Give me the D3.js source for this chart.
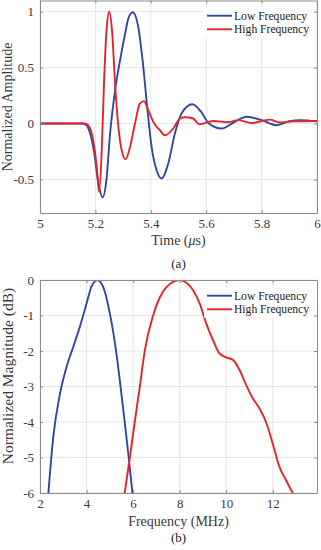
<!DOCTYPE html>
<html><head><meta charset="utf-8">
<script src="https://cdn.jsdelivr.net/npm/d3@7"></script>
<style>
html,body{margin:0;padding:0;background:#fff;}
svg, svg text{font-family:"Times New Roman","Liberation Serif","DejaVu Serif",serif !important;}
</style></head>
<body>
<svg id="c" width="321" height="550"></svg>
<script>
// ---- Data (a): time signals ----
const timeLow = [5.00,5.15,5.165,5.18,5.195,5.21,5.226,5.24,5.253,5.271,5.289,5.307,5.319,5.335,5.355,5.373,5.388,5.403,5.421,5.439,5.463,5.487,5.511,5.55,5.58,5.61,5.656,5.70,5.746,5.80,5.854,5.90,5.94,6.00];
const ampLow  = [0,0,-0.01,-0.08,-0.25,-0.52,-0.66,-0.50,-0.09,0.297,0.565,0.80,0.94,0.995,0.86,0.505,0.12,-0.21,-0.417,-0.49,-0.357,-0.09,0.09,0.172,0.11,0.0,-0.045,0.01,0.06,0.03,-0.015,0.02,0.03,0.02];
const timeHigh = [5.00,5.16,5.174,5.192,5.205,5.213,5.223,5.231,5.241,5.250,5.261,5.271,5.283,5.295,5.309,5.325,5.343,5.361,5.375,5.391,5.409,5.433,5.451,5.481,5.505,5.523,5.553,5.575,5.626,5.68,5.715,5.764,5.83,5.866,5.914,6.00];
const ampHigh  = [0,0,-0.015,-0.15,-0.39,-0.61,-0.24,0.357,0.86,1.0,0.80,0.357,-0.03,-0.24,-0.32,-0.21,0.0,0.18,0.20,0.12,0.015,-0.06,-0.105,-0.045,0.045,0.056,0.045,-0.006,0.023,0.012,0.03,0.005,0.035,0.01,0.02,0.023];
const timeTicks = [5,5.2,5.4,5.6,5.8,6];
const ampTicks = [-0.5,0,0.5,1];

// ---- Data (b): spectra ----
const freqLow = [2.36,2.57,2.86,3.14,3.43,3.71,4.0,4.21,4.46,4.71,5.0,5.29,5.46,5.64,5.81,5.97];
const magLow  = [-6,-4.42,-3.2,-2.45,-1.88,-1.32,-0.66,-0.19,0,-0.19,-0.94,-2.1,-3.0,-4.0,-5.0,-6];
const freqHigh = [5.64,5.86,6.07,6.29,6.5,6.86,7.14,7.43,8.0,8.29,8.57,8.86,9.14,9.43,9.71,10.0,10.29,10.57,10.86,11.14,11.43,11.71,12.0,12.29,12.57,12.86];
const magHigh  = [-6,-5,-4,-3,-2,-1,-0.5,-0.2,0,-0.08,-0.28,-0.66,-1.22,-1.69,-2.07,-2.18,-2.25,-2.53,-2.96,-3.33,-3.62,-4.0,-4.61,-5.27,-5.64,-6];
const freqTicks = [2,4,6,8,10,12];
const magTicks = [0,-1,-2,-3,-4,-5,-6];

const seriesNames = ["Low Frequency","High Frequency"];
const colors = ["#33479c","#e3242b"];
const FONT = '"Times New Roman","Liberation Serif","DejaVu Serif",serif';

const svg = d3.select("#c");

function panel(opt){
  const g = svg.append("g");
  const x = d3.scaleLinear().domain(opt.xdom).range([opt.left,opt.right]);
  const y = d3.scaleLinear().domain(opt.ydom).range([opt.bottom,opt.top]);
  g.selectAll(".gx").data(opt.xticks).enter().append("line")
    .attr("x1",d=>x(d)).attr("x2",d=>x(d)).attr("y1",opt.top).attr("y2",opt.bottom)
    .attr("stroke","#e6e6e6").attr("stroke-width",1);
  g.selectAll(".gy").data(opt.yticks).enter().append("line")
    .attr("y1",d=>y(d)).attr("y2",d=>y(d)).attr("x1",opt.left).attr("x2",opt.right)
    .attr("stroke","#e6e6e6").attr("stroke-width",1);
  const cid = "clip"+opt.id;
  svg.append("clipPath").attr("id",cid).append("rect")
    .attr("x",opt.left).attr("y",opt.top).attr("width",opt.right-opt.left).attr("height",opt.bottom-opt.top);
  const line = d3.line().x(d=>x(d[0])).y(d=>y(d[1])).curve(d3.curveMonotoneX);
  opt.series.forEach((s,i)=>{
    const pts = s.xs.map((v,k)=>[v,s.ys[k]]);
    g.append("path").attr("d",line(pts)).attr("fill","none")
      .attr("stroke",colors[i]).attr("stroke-width",1.9)
      .attr("clip-path",`url(#${cid})`);
  });
  const ax = d3.axisBottom(x).tickValues(opt.xticks).tickSizeInner(-3).tickSizeOuter(0).tickPadding(6).tickFormat(opt.xfmt);
  const ay = d3.axisLeft(y).tickValues(opt.yticks).tickSizeInner(-3).tickSizeOuter(0).tickPadding(6).tickFormat(opt.yfmt);
  const gx = g.append("g").attr("transform",`translate(0,${opt.bottom})`).call(ax);
  const gy = g.append("g").attr("transform",`translate(${opt.left},0)`).call(ay);
  const gxt = g.append("g").attr("transform",`translate(0,${opt.top})`).call(d3.axisTop(x).tickValues(opt.xticks).tickSizeInner(-3).tickSizeOuter(0).tickFormat(""));
  const gyr = g.append("g").attr("transform",`translate(${opt.right},0)`).call(d3.axisRight(y).tickValues(opt.yticks).tickSizeInner(-3).tickSizeOuter(0).tickFormat(""));
  [gx,gy,gxt,gyr].forEach(a=>{
    a.attr("font-family",FONT);
    a.select(".domain").attr("stroke","#8a8a8a");
    a.selectAll(".tick line").attr("stroke","#8a8a8a");
    a.selectAll("text").style("font-family",FONT).attr("font-size",13).attr("fill","#3a3a3a");
  });
  g.append("text").attr("x",(opt.left+opt.right)/2).attr("y",opt.xlabY).attr("text-anchor","middle")
    .style("font-family",FONT).attr("font-size",14).attr("fill","#3a3a3a").html(opt.xlabel);
  g.append("text").attr("transform",`translate(${opt.ylabX},${opt.ylabCY}) rotate(-90)`).attr("text-anchor","middle")
    .style("font-family",FONT).attr("font-size",opt.ylabSize).attr("fill","#3a3a3a").text(opt.ylabel);
  g.append("text").attr("x",(opt.left+opt.right)/2).attr("y",opt.capY).attr("text-anchor","middle")
    .style("font-family",FONT).attr("font-size",13).attr("fill","#222").text(opt.caption);
  // legend with white background (no border)
  g.append("rect").attr("x",204).attr("y",opt.legY-8).attr("width",110).attr("height",30)
    .attr("fill","#fff");
  seriesNames.forEach((n,i)=>{
    const ly = opt.legY + i*13.6;
    g.append("line").attr("x1",207).attr("x2",232).attr("y1",ly).attr("y2",ly)
      .attr("stroke",colors[i]).attr("stroke-width",1.9);
    g.append("text").attr("x",234).attr("y",ly+4).style("font-family",FONT).attr("font-size",11.6).attr("fill","#222").text(n);
  });
}

const fmt = d=>String(d);
panel({id:"a",left:40,right:317,top:0.5,bottom:213,xdom:[5,6],ydom:[-0.8,1.1],
  xticks:timeTicks,yticks:ampTicks,xfmt:fmt,yfmt:fmt,
  series:[{xs:timeLow,ys:ampLow},{xs:timeHigh,ys:ampHigh}],
  xlabel:'Time (<tspan font-style="italic">μ</tspan>s)',xlabY:245,
  ylabel:"Normalized Amplitude",ylabX:12,ylabCY:107,ylabSize:14,
  caption:"(a)",capY:268,legY:15.7});
panel({id:"b",left:40,right:317,top:280,bottom:493,xdom:[2,13.9],ydom:[-6,0],
  xticks:freqTicks,yticks:magTicks,xfmt:fmt,yfmt:fmt,
  series:[{xs:freqLow,ys:magLow},{xs:freqHigh,ys:magHigh}],
  xlabel:"Frequency (MHz)",xlabY:526,
  ylabel:"Normalized Magnitude (dB)",ylabX:13,ylabCY:376,ylabSize:15.5,
  caption:"(b)",capY:542,legY:295.7});
</script>
</body></html>
